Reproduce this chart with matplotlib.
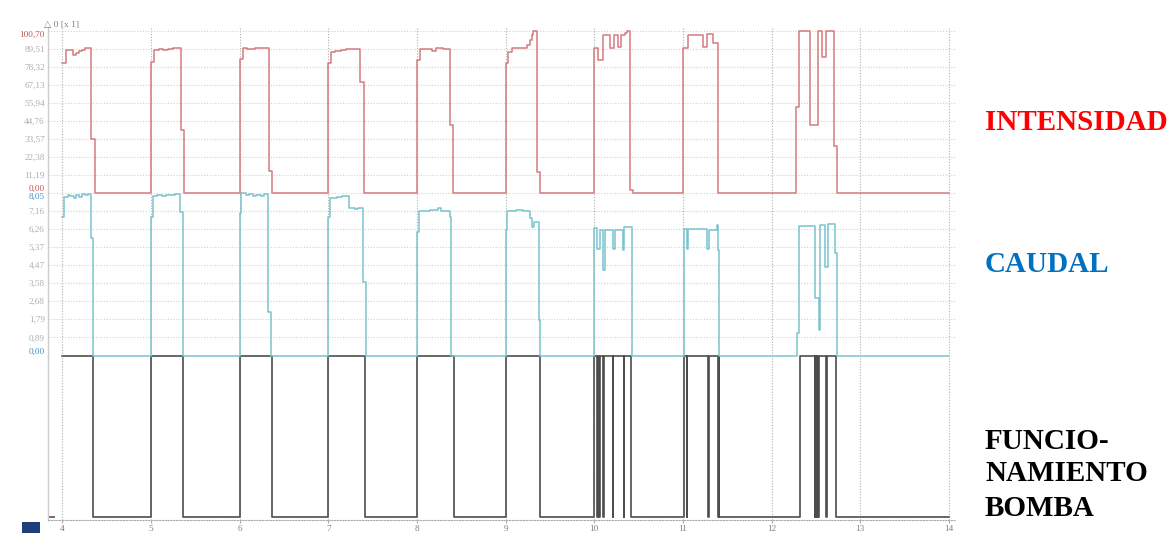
import matplotlib
matplotlib.use('Agg')
import matplotlib.pyplot as plt
from matplotlib.patches import Rectangle

# intensity trace (A), step samples
int_t = [4.00, 4.045, 4.115, 4.155, 4.19, 4.225, 4.255, 4.32, 4.365,
         5.00, 5.03, 5.09, 5.14, 5.19, 5.25, 5.335, 5.37,
         6.00, 6.04, 6.08, 6.12, 6.17, 6.22, 6.33, 6.37,
         7.00, 7.03, 7.08, 7.14, 7.20, 7.36, 7.40,
         8.00, 8.03, 8.17, 8.22, 8.29, 8.37, 8.405,
         9.00, 9.03, 9.07, 9.24, 9.28, 9.295, 9.31, 9.35, 9.39,
         10.00, 10.045, 10.10, 10.175, 10.22, 10.265, 10.30, 10.345, 10.37, 10.405, 10.44,
         11.00, 11.06, 11.23, 11.27, 11.34, 11.39,
         12.27, 12.31, 12.43, 12.52, 12.57, 12.61, 12.70, 12.735,
         14.0]
int_v = [80.3, 88.9, 85.8, 86.6, 87.7, 88.8, 89.6, 33.2, 0,
         81.3, 88.5, 89.0, 88.6, 89.2, 89.8, 38.8, 0,
         82.8, 89.6, 89.0, 89.4, 90.0, 89.6, 13.6, 0,
         80.3, 87.1, 87.8, 88.5, 89.2, 68.9, 0,
         82.3, 89.0, 88.1, 89.9, 89.0, 41.9, 0,
         80.7, 87.5, 90.0, 91.7, 95.0, 98.0, 100.7, 12.9, 0,
         90.0, 82.3, 97.9, 89.6, 97.9, 90.6, 97.9, 99.3, 100.7, 1.5, 0,
         89.6, 97.9, 90.2, 98.5, 93.1, 0,
         53.3, 100.7, 41.9, 100.7, 84.0, 100.7, 28.9, 0,
         0]

# flow trace (caudal), step samples
cau_t = [4.00, 4.02, 4.06, 4.09, 4.13, 4.16, 4.19, 4.22, 4.26, 4.29, 4.32, 4.345,
         5.00, 5.02, 5.07, 5.12, 5.17, 5.22, 5.27, 5.33, 5.36,
         6.00, 6.02, 6.07, 6.11, 6.15, 6.19, 6.24, 6.28, 6.32, 6.35,
         7.00, 7.02, 7.10, 7.15, 7.23, 7.30, 7.34, 7.39, 7.42,
         8.00, 8.02, 8.15, 8.24, 8.27, 8.37, 8.385,
         9.00, 9.02, 9.12, 9.20, 9.27, 9.30, 9.32, 9.38, 9.39,
         10.00, 10.03, 10.06, 10.10, 10.12, 10.21, 10.23, 10.32, 10.335, 10.42,
         11.01, 11.04, 11.06, 11.27, 11.29, 11.38, 11.40, 11.41,
         12.29, 12.31, 12.49, 12.53, 12.55, 12.60, 12.63, 12.72, 12.74,
         14.0]
cau_v = [6.86, 7.84, 7.95, 7.88, 7.80, 7.92, 7.85, 7.97, 7.92, 7.98, 5.79, 0,
         6.86, 7.88, 7.93, 7.88, 7.95, 7.92, 7.98, 7.10, 0,
         7.02, 8.01, 7.92, 7.98, 7.88, 7.95, 7.90, 7.96, 2.16, 0,
         6.86, 7.80, 7.85, 7.90, 7.27, 7.22, 7.30, 3.65, 0,
         6.11, 7.14, 7.18, 7.26, 7.16, 6.86, 0,
         6.20, 7.14, 7.17, 7.12, 6.78, 6.36, 6.61, 1.75, 0,
         6.28, 5.25, 6.20, 4.22, 6.20, 5.25, 6.20, 5.20, 6.36, 0,
         6.23, 5.25, 6.23, 5.25, 6.20, 6.45, 5.22, 0,
         1.10, 6.40, 2.82, 1.26, 6.45, 4.39, 6.50, 5.05, 0,
         0]

# pump on/off state
bomba_t = [4.00, 4.346, 5.00, 5.36, 6.00, 6.365, 7.00, 7.41, 8.00, 8.42, 9.00, 9.39,
           10.00, 10.030, 10.036, 10.058, 10.064, 10.100, 10.106, 10.208, 10.214, 10.330, 10.336, 10.41,
           11.01, 11.040, 11.046, 11.285, 11.291, 11.398, 11.404, 11.41,
           12.32, 12.488, 12.494, 12.502, 12.508, 12.516, 12.522, 12.528, 12.534, 12.618, 12.624, 12.73,
           14.0]
bomba_v = [1, 0, 1, 0, 1, 0, 1, 0, 1, 0, 1, 0,
           1, 0, 1, 0, 1, 0, 1, 0, 1, 0, 1, 0,
           1, 0, 1, 0, 1, 0, 1, 0,
           1, 0, 1, 0, 1, 0, 1, 0, 1, 0, 1, 0,
           0]

int_ticks = [0.00, 11.19, 22.38, 33.57, 44.76, 55.94, 67.13, 78.32, 89.51, 100.70]
cau_ticks = [0.00, 0.89, 1.79, 2.68, 3.58, 4.47, 5.37, 6.26, 7.16, 8.05]
time_ticks = [4, 5, 6, 7, 8, 9, 10, 11, 12, 13, 14]


def fmt(v):
    return f'{v:.2f}'.replace('.', ',')


plt.rcParams['font.family'] = ['Liberation Serif', 'DejaVu Sans']

W, H = 1170, 533
X0, X1 = 48.3, 956
XMIN, XMAX = 3.842, 14.079

fig = plt.figure(figsize=(W / 100, H / 100), dpi=100)
fig.patch.set_facecolor('white')


def add_panel(top, bottom, z):
    ax = fig.add_axes([X0 / W, 1 - bottom / H, (X1 - X0) / W, (bottom - top) / H])
    ax.set_zorder(z)
    ax.patch.set_visible(False)
    ax.set_xlim(XMIN, XMAX)
    for s in ['top', 'right', 'bottom']:
        ax.spines[s].set_visible(False)
    ax.spines['left'].set_color('#cccccc')
    ax.spines['left'].set_linewidth(1.0)
    ax.set_xticks(time_ticks)
    ax.grid(axis='x', ls=(0, (1, 1.5)), color='#b0b0b0', lw=0.8)
    ax.tick_params(axis='x', length=0, labelbottom=False)
    ax.tick_params(axis='y', length=0, pad=2.5, labelsize=6.6)
    return ax


def color_ends(ax, mid_color, end_color):
    labels = ax.get_yticklabels()
    for lbl in labels:
        lbl.set_color(mid_color)
    labels[0].set_va('bottom')
    labels[0].set_color(end_color)
    labels[-1].set_va('top')
    labels[-1].set_color(end_color)


# intensity panel
ax1 = add_panel(27, 192.5, 3)
ax1.set_ylim(0, 102.9)
ax1.set_yticks(int_ticks, [fmt(v) for v in int_ticks])
ax1.grid(axis='y', ls=(0, (1, 1.5)), color='#d2d2d2', lw=0.8)
color_ends(ax1, '#b8a8a8', '#c0504d')
ax1.plot(int_t, int_v, drawstyle='steps-post', color='#d47a7e', lw=1.1, clip_on=False)

# flow panel
ax2 = add_panel(192.5, 355.5, 2)
ax2.set_ylim(0, 8.05)
ax2.set_yticks(cau_ticks, [fmt(v) for v in cau_ticks])
ax2.grid(axis='y', ls=(0, (1, 1.5)), color='#d2d2d2', lw=0.8)
color_ends(ax2, '#a8b0b4', '#3d8ec9')
ax2.plot(cau_t, cau_v, drawstyle='steps-post', color='#79c4cc', lw=1.1, clip_on=False)

# pump state panel
ax3 = add_panel(355.5, 519.5, 1)
ax3.set_ylim(-3 / 161, 1.0)
ax3.set_yticks([0], [''])
ax3.tick_params(axis='y', length=5, direction='in', color='#555555', width=1.2)
ax3.spines['bottom'].set_visible(True)
ax3.spines['bottom'].set_color('#aaaaaa')
ax3.spines['bottom'].set_linestyle((0, (1, 1.5)))
ax3.tick_params(axis='x', labelbottom=True, length=2, color='#aaaaaa',
                labelsize=6.6, labelcolor='#8b7d70', pad=2)
ax3.get_xticklabels()[0].set_color('#c0504d')
ax3.plot(bomba_t, bomba_v, drawstyle='steps-post', color='#4d4d4d', lw=1.2, clip_on=False)

# cursor header and corner icon
fig.text(44 / W, 1 - 25 / H, '\u25b3 0 [x 1]', fontsize=6.8, color='#808080',
         va='center', ha='left', family=['Liberation Serif', 'DejaVu Sans'])
fig.patches.append(Rectangle((22 / W, 0), 18 / W, 11 / H, transform=fig.transFigure,
                             facecolor='#1f3f7a', edgecolor='none'))

# channel names
fig.text(985 / W, 1 - 130 / H, 'INTENSIDAD', fontsize=21, fontweight='bold',
         color='#ff0000', va='baseline', ha='left')
fig.text(985 / W, 1 - 271.5 / H, 'CAUDAL', fontsize=21, fontweight='bold',
         color='#0070c0', va='baseline', ha='left')
for text, base in [('FUNCIO-', 449), ('NAMIENTO', 481), ('BOMBA', 516)]:
    fig.text(985 / W, 1 - base / H, text, fontsize=21, fontweight='bold',
             color='black', va='baseline', ha='left')

fig.savefig('out.png', dpi=100)
